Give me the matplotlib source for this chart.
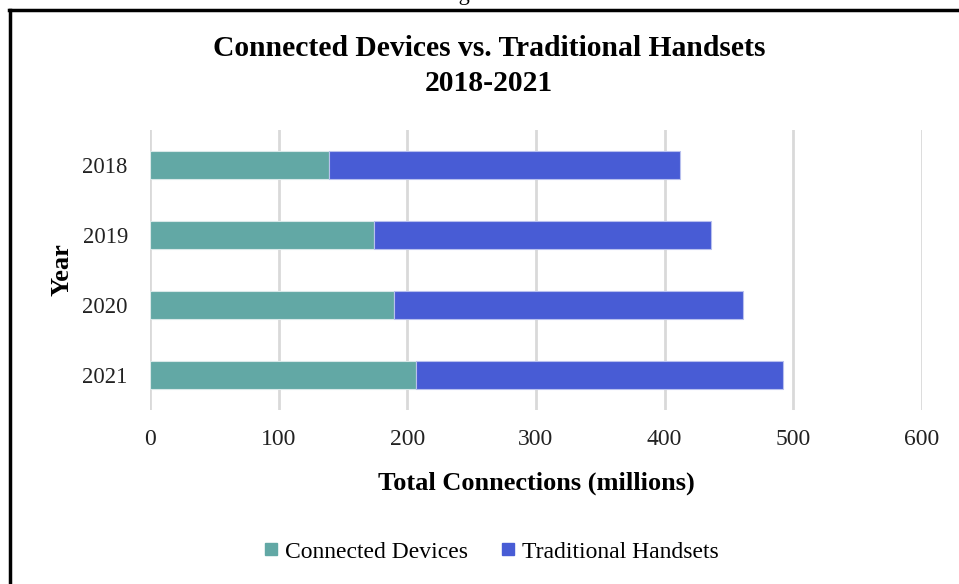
import matplotlib.pyplot as plt
from matplotlib.lines import Line2D

# Chart data (millions of connections)
years = ['2018', '2019', '2020', '2021']
connected = [139, 174, 190, 207]
traditional = [273, 262, 271, 285]
x_ticks = [0, 100, 200, 300, 400, 500, 600]

teal = '#62A8A5'
blue = '#485CD5'

plt.rcParams['font.family'] = ['Liberation Serif', 'DejaVu Serif']

fig = plt.figure(figsize=(9.59, 5.84), dpi=100)
ax = fig.add_axes([0.1564, 0.2979, 0.805, 0.4795])

pos = list(range(len(years)))
ax.barh(pos, connected, height=0.4, color=teal, edgecolor='#D8E8E8', linewidth=0.8,
        label='Connected Devices', zorder=3)
ax.barh(pos, traditional, left=connected, height=0.4, color=blue, edgecolor='#B8C0EE',
        linewidth=0.8, label='Traditional Handsets', zorder=3)

ax.set_ylim(3.5, -0.5)
ax.set_xlim(0, 600)
ax.set_yticks(pos)
ax.set_yticklabels(years, fontsize=16.3, color='#222222')
ax.set_xticks(x_ticks)
ax.set_xticklabels([str(t) for t in x_ticks], fontsize=17, color='#222222')
ax.tick_params(axis='both', length=0)
ax.tick_params(axis='x', pad=14)
ax.tick_params(axis='y', pad=16)
ax.xaxis.grid(True, color='#D9D9D9', linewidth=2, zorder=0)
for s in ax.spines.values():
    s.set_visible(False)

ax.set_xlabel('Total Connections (millions)', fontsize=19, fontweight='bold', labelpad=15)
ax.set_ylabel('Year', fontsize=19, fontweight='bold', labelpad=6)

fig.text(0.51, 0.887, 'Connected Devices vs. Traditional Handsets\n2018-2021',
         ha='center', va='center', fontsize=21.3, fontweight='bold', linespacing=1.4)

handles = [Line2D([], [], marker='s', linestyle='', markersize=9, color=teal),
           Line2D([], [], marker='s', linestyle='', markersize=9, color=blue)]
fig.legend(handles, ['Connected Devices', 'Traditional Handsets'], loc='center',
           bbox_to_anchor=(0.51, 0.055), ncol=2, frameon=False, fontsize=17,
           handletextpad=0.1, columnspacing=1.2, handlelength=1.0)

# caption cut off at the top edge and page frame
fig.text(0.49, 1.0, 'Figure', ha='center', va='baseline', fontsize=16)
fig.add_artist(Line2D([9 / 959, 1.0], [1 - 10 / 584] * 2, color='black', linewidth=2.5))
fig.add_artist(Line2D([10 / 959] * 2, [0.0, 1 - 10 / 584], color='black', linewidth=2.5))

plt.savefig('out.png', dpi=100)
